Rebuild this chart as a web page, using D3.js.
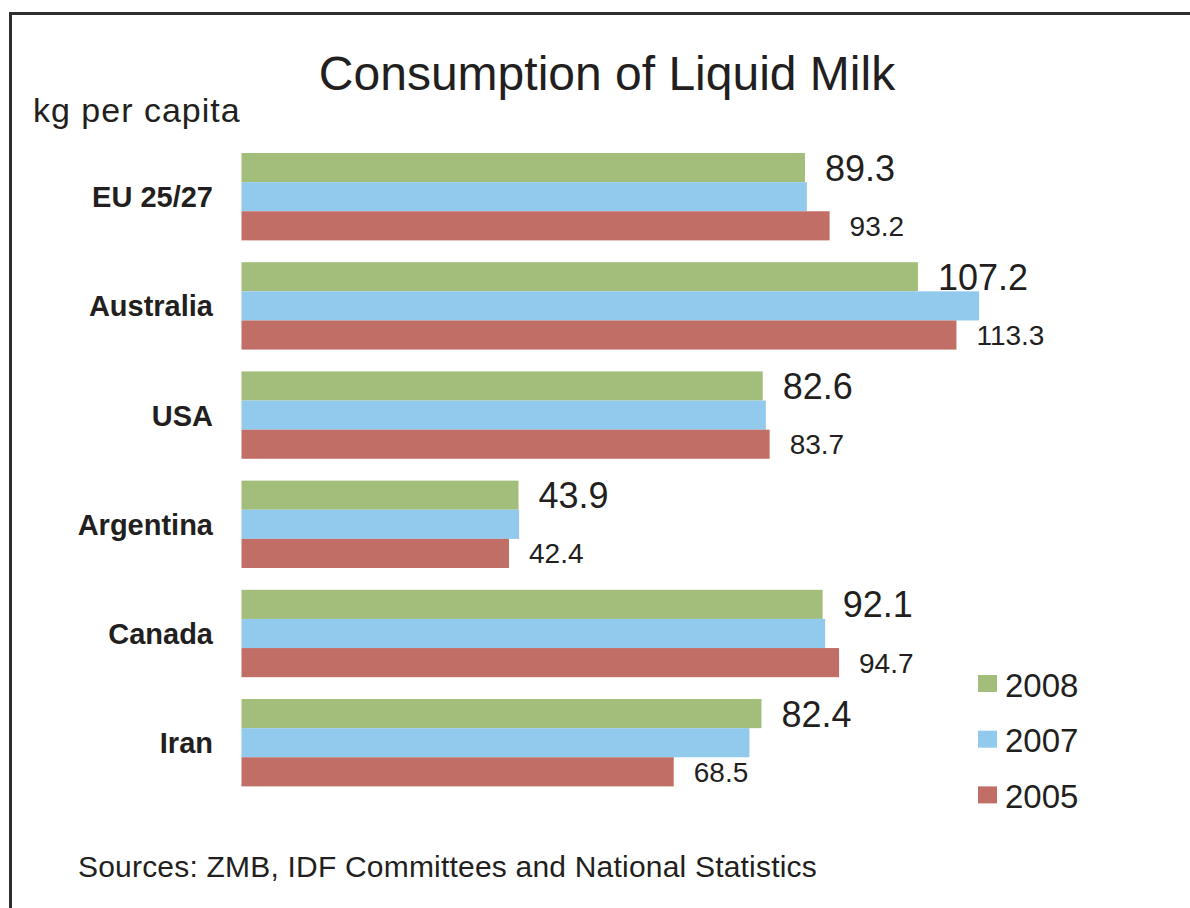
<!DOCTYPE html>
<html>
<head>
<meta charset="utf-8">
<script src="https://cdn.jsdelivr.net/npm/d3@7"></script>
<style>
  html, body { margin: 0; padding: 0; background: #fff; }
  svg { display: block; }
  text { font-family: "Liberation Sans", Arial, Helvetica, sans-serif; fill: #231f20; }
</style>
</head>
<body>
<svg id="chart" width="1190" height="908"></svg>
<script>
// Liquid milk consumption, kg per capita
const countries = ["EU 25/27", "Australia", "USA", "Argentina", "Canada", "Iran"];
const years = ["2008", "2007", "2005"];
const values2008 = [89.3, 107.2, 82.6, 43.9, 92.1, 82.4];
const values2007 = [89.6, 116.9, 83.1, 44.0, 92.5, 80.5];
const values2005 = [93.2, 113.3, 83.7, 42.4, 94.7, 68.5];
const seriesColors = ["#a3be7a", "#92caee", "#c16e67"];

const series = [values2008, values2007, values2005];

const svg = d3.select("#chart");
const W = 1190, H = 908;

// frame
svg.append("rect")
  .attr("x", 10.5).attr("y", 13.5)
  .attr("width", W + 20).attr("height", H + 20)
  .attr("fill", "none").attr("stroke", "#2e2e2e").attr("stroke-width", 3);

// title and unit
svg.append("text")
  .attr("x", 607).attr("y", 90)
  .attr("text-anchor", "middle")
  .style("font-size", "48px")
  .text("Consumption of Liquid Milk");

svg.append("text")
  .attr("x", 33).attr("y", 122)
  .style("font-size", "34px")
  .style("letter-spacing", "1px")
  .text("kg per capita");

// scales
const x = d3.scaleLinear().domain([0, 120]).range([241.5, 998.7]);
const y = d3.scaleBand().domain(countries).range([142.1, 797.3])
  .paddingInner(0.2).paddingOuter(0.1);
const ySub = d3.scaleBand().domain(years).range([0, y.bandwidth()]);

// category labels
svg.append("g")
  .selectAll("text")
  .data(countries)
  .join("text")
  .attr("x", 213)
  .attr("y", d => y(d) + y.bandwidth() / 2)
  .attr("dy", "0.36em")
  .attr("text-anchor", "end")
  .style("font-size", "29px")
  .style("font-weight", "bold")
  .text(d => d);

// bars
const groups = svg.append("g")
  .selectAll("g")
  .data(countries)
  .join("g")
  .attr("transform", d => `translate(0,${y(d)})`);

groups.selectAll("rect")
  .data((d, i) => years.map((yr, s) => ({ yr, s, v: series[s][i] })))
  .join("rect")
  .attr("x", x(0))
  .attr("y", d => ySub(d.yr))
  .attr("width", d => x(d.v) - x(0))
  .attr("height", ySub.bandwidth())
  .attr("fill", d => seriesColors[d.s]);

// value labels: 2008 (large) and 2005 (smaller)
groups.each(function (c, i) {
  const g = d3.select(this);
  g.append("text")
    .attr("x", x(values2008[i]) + 20)
    .attr("y", ySub("2008") + ySub.bandwidth() / 2)
    .attr("dy", "0.36em")
    .style("font-size", "36px")
    .text(values2008[i].toFixed(1));
  g.append("text")
    .attr("x", x(values2005[i]) + 20)
    .attr("y", ySub("2005") + ySub.bandwidth() / 2)
    .attr("dy", "0.36em")
    .style("font-size", "28px")
    .text(values2005[i].toFixed(1));
});

// legend
const legend = svg.append("g")
  .selectAll("g")
  .data(years)
  .join("g")
  .attr("transform", (d, i) => `translate(978,${675 + i * 55.7})`);

legend.append("rect")
  .attr("width", 19).attr("height", 17)
  .attr("fill", (d, i) => seriesColors[i]);

legend.append("text")
  .attr("x", 27).attr("y", 21.7)
  .style("font-size", "33px")
  .text(d => d);

// source note
svg.append("text")
  .attr("x", 78).attr("y", 876.7)
  .style("font-size", "30px")
  .style("letter-spacing", "0.2px")
  .text("Sources: ZMB, IDF Committees and National Statistics");
</script>
</body>
</html>
